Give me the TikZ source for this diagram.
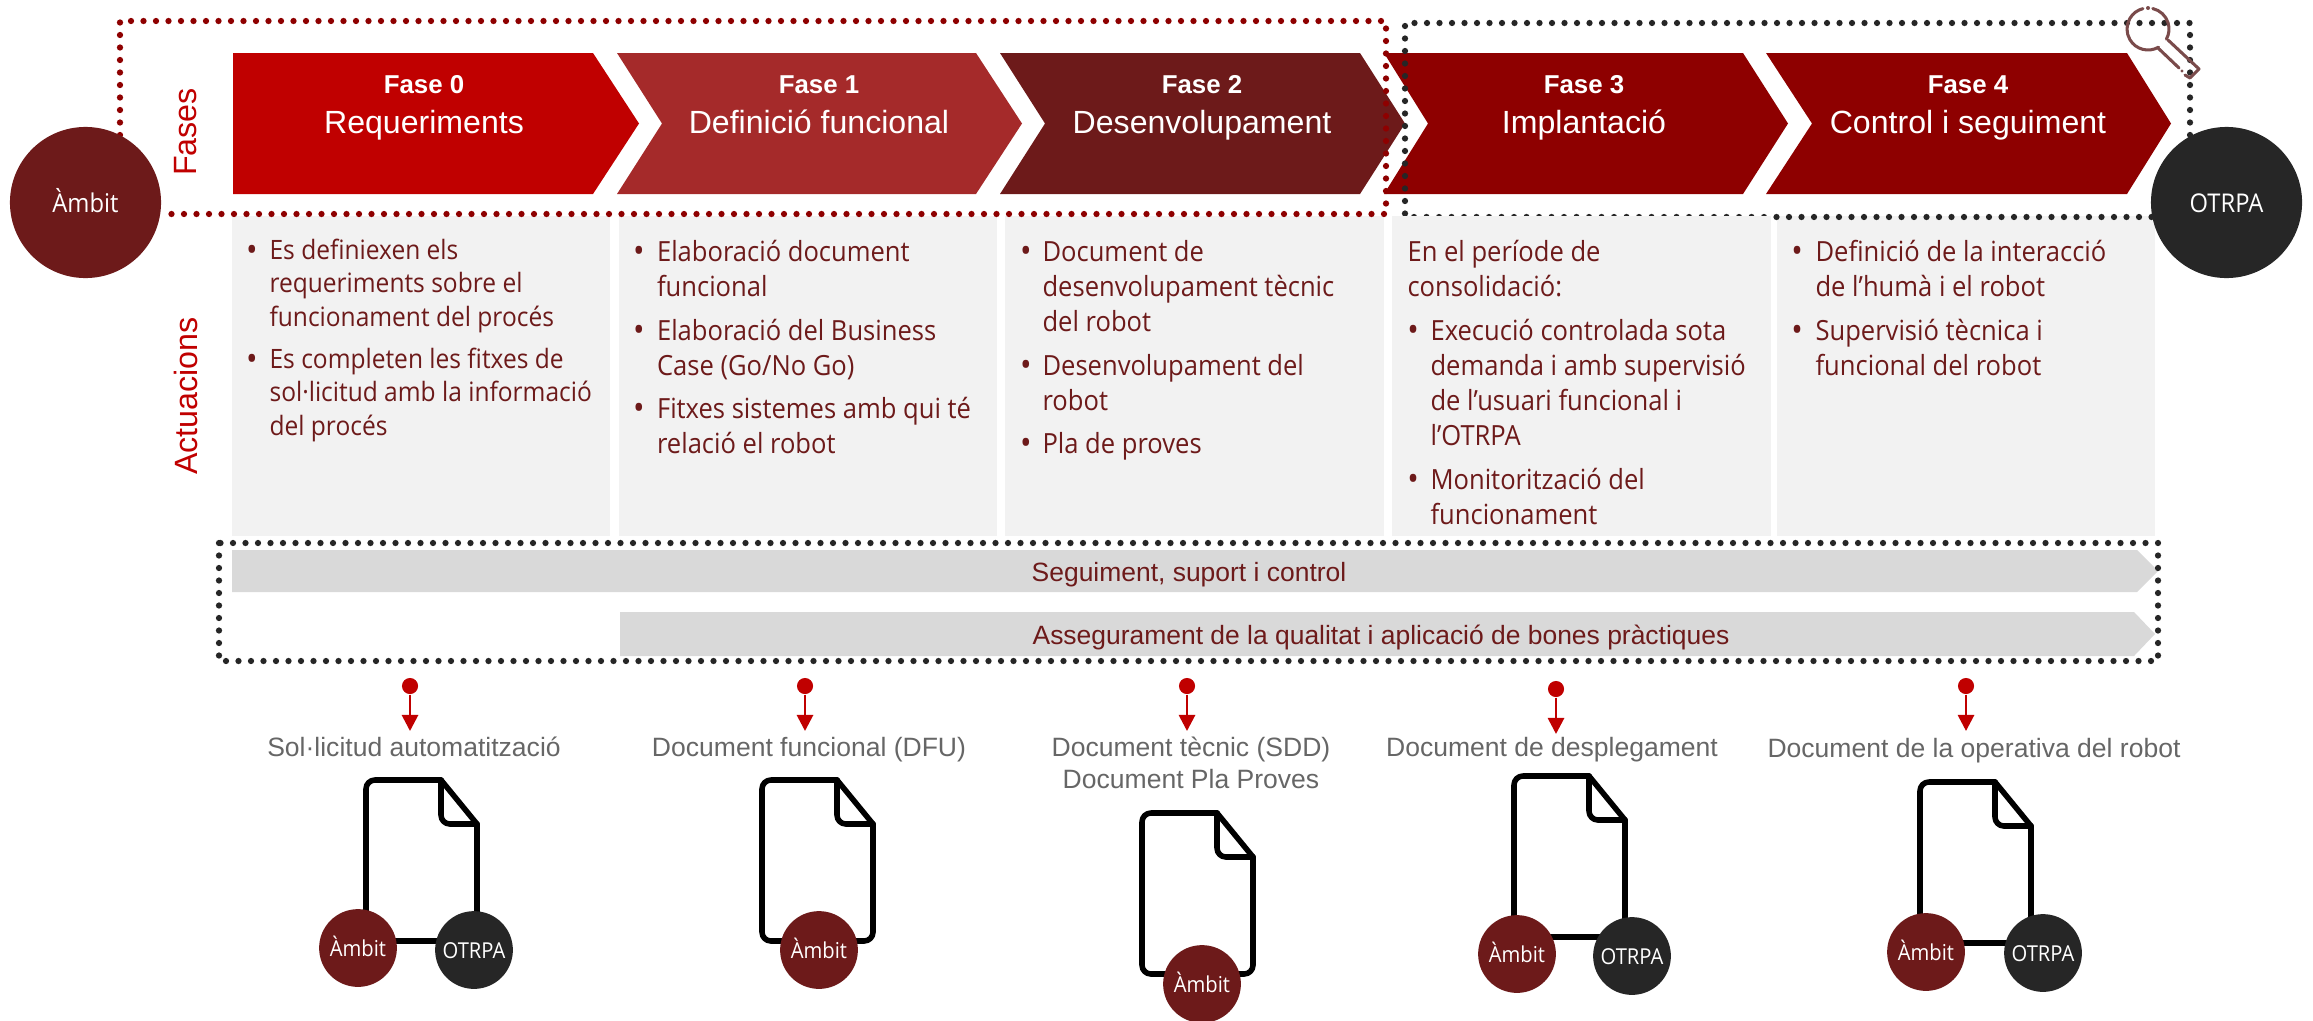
\documentclass[tikz,border=0pt]{standalone}
\usepackage{fontspec}
\setmainfont{Liberation Sans}
\newfontfamily\segoe[FakeStretch=0.92]{Open Sans}
\usetikzlibrary{arrows.meta}
\definecolor{cred}{HTML}{C00000}
\definecolor{cmid}{HTML}{A52A2A}
\definecolor{cdark}{HTML}{6D1A1A}
\definecolor{cdeep}{HTML}{8E0000}
\definecolor{cblk}{HTML}{262626}
\definecolor{cpanel}{HTML}{F2F2F2}
\definecolor{cbar}{HTML}{D9D9D9}
\definecolor{cdoc}{HTML}{666666}
\definecolor{cmag}{HTML}{7A4B4B}
\tikzset{
  x=0.36pt,y=-0.36pt,
  paneltext/.style={anchor=north west,text=cdark,font=\segoe\fontsize{10pt}{12.6pt}\selectfont,align=left,inner sep=0pt},
  tight/.style={font=\segoe\fontsize{9.6pt}{12.05pt}\selectfont},
  bulletmark/.style={anchor=base,text=cdark,font=\segoe\fontsize{12pt}{12.6pt}\selectfont,inner sep=0pt},
  dotline/.style={line width=2.25pt,line cap=round,dash pattern=on 0pt off 4.5pt},
  bigcirc/.style={circle,minimum size=54.4pt,inner sep=0pt,text=white,text height=8pt,text depth=1pt,font=\segoe\fontsize{9.3pt}{10pt}\selectfont},
  smallcirc/.style={circle,minimum size=28pt,inner sep=0pt,text=white,text height=6.8pt,text depth=1pt,font=\segoe\fontsize{7.9pt}{8pt}\selectfont},
  doclabel/.style={anchor=base,text=cdoc,font=\fontsize{9.55pt}{11.5pt}\selectfont,align=center,inner sep=0pt},
  phasenum/.style={anchor=base,text=white,font=\bfseries\fontsize{9.3pt}{11pt}\selectfont,inner sep=0pt},
  phasename/.style={anchor=base,text=white,font=\fontsize{11.55pt}{13pt}\selectfont,inner sep=0pt},
  sidelabel/.style={rotate=90,text=cred,font=\fontsize{11.6pt}{13pt}\selectfont,inner sep=0pt},
  bartext/.style={anchor=base,text=cdark,font=\fontsize{9.52pt}{11pt}\selectfont,inner sep=0pt},
  pindot/.style={circle,fill=cred,minimum size=5.8pt,inner sep=0pt},
  pinline/.style={draw=cred,line width=1pt,-{Triangle[length=5.8pt,width=5.8pt,fill=cred]}},
  docline/.style={line width=2pt,line cap=round,line join=round},
  magline/.style={draw=cmag,line width=1.1pt,line cap=round,line join=round},
}
\newcommand{\docicon}[2]{%
  \begin{scope}[shift={(#1,#2)}]
    \draw[docline,rounded corners=3.2pt] (75,0) -- (0,0) -- (0,161) -- (111,161) -- (111,44);
    \draw[docline] (75,0) -- (111,44);
    \draw[docline,rounded corners=3.2pt] (75,0) -- (75,44) -- (111,44);
  \end{scope}}
\newcommand{\para}[5]{% name, bullet x, text x, first baseline, text
  \node[bulletmark] (#1b) at (#2,#4+3) {•};
  \node[paneltext] (#1) at (#3,#4-19.44) {\rule{0pt}{7pt}#5};}
\newcommand{\parat}[5]{%
  \node[bulletmark] (#1b) at (#2,#4+3) {•};
  \node[paneltext,tight] (#1) at (#3,#4-19.44) {\rule{0pt}{7pt}#5};}
\begin{document}
\begin{tikzpicture}
\useasboundingbox (0,0) rectangle (2313,1020);
% panels
\fill[cpanel] (232,216) rectangle (610,536);
\fill[cpanel] (619,216) rectangle (997,536);
\fill[cpanel] (1005,216) rectangle (1384,536);
\fill[cpanel] (1777,216) rectangle (2155,536);
% chevrons
\fill[cred]  (233,53) -- (593,53) -- (639,123.5) -- (593,194) -- (233,194) -- cycle;
\fill[cmid]  (617,53) -- (976,53) -- (1022,123.5) -- (976,194) -- (617,194) -- (662,123.5) -- cycle;
\fill[cdark] (1000,53) -- (1360,53) -- (1405,123.5) -- (1360,194) -- (1000,194) -- (1045,123.5) -- cycle;
\fill[cdeep] (1384,53) -- (1743,53) -- (1788,123.5) -- (1743,194) -- (1384,194) -- (1428,123.5) -- cycle;
\fill[cdeep] (1766,53) -- (2127,53) -- (2171,123.5) -- (2127,194) -- (1766,194) -- (1812,123.5) -- cycle;
% phase titles
\node[phasenum] (f0) at (424,93) {Fase 0};
\node[phasename] (n0) at (424,133) {Requeriments};
\node[phasenum] (f1) at (819,93) {Fase 1};
\node[phasename] (n1) at (819,133) {Definició funcional};
\node[phasenum] (f2) at (1202,93) {Fase 2};
\node[phasename] (n2) at (1202,133) {Desenvolupament};
\node[phasenum] (f3) at (1584,93) {Fase 3};
\node[phasename] (n3) at (1584,133) {Implantació};
\node[phasenum] (f4) at (1968,93) {Fase 4};
\node[phasename] (n4) at (1968,133) {Control i seguiment};
% side labels
\node[sidelabel] (sf) at (186,132) {Fases};
\node[sidelabel] (sa) at (186,396) {Actuacions};
% dotted frames
\draw[cdeep,dotline] (120,135) -- (120,21) -- (1386,21) -- (1386,214) -- (161,214);
\draw[cblk,dotline] (2190,135) -- (2190,23) -- (1405,23) -- (1405,217) -- (2155,217);
\fill[cpanel] (1392,216) rectangle (1771,536);
% magnifier
\begin{scope}[shift={(2148,29)}]
  \draw[magline] (-77:21) arc[start angle=-77,end angle=29,radius=21];
  \draw[magline] (60:21) arc[start angle=60,end angle=256,radius=21];
  \fill[cmag] (-90:21) circle[radius=2];
\end{scope}
\draw[magline] (2168,40) -- (2199,69) -- (2190,78) -- (2185,75);
\draw[magline] (2158,48) -- (2179,68);
\fill[cmag] (2182,71) circle[radius=1.6];
% main circles
\node[bigcirc,fill=cdark] (ambit) at (85.5,202.5) {Àmbit};
\node[bigcirc,fill=cblk] (otrpa) at (2226.5,202.5) {OTRPA};
% column texts
\parat{a1}{252}{269}{258}{Es definiexen els\\requeriments sobre el\\funcionament del procés}
\parat{a2}{252}{269}{367}{Es completen les fitxes de\\sol·licitud amb la informació\\del procés}
\para{b1}{639}{656.5}{259}{Elaboració document\\funcional}
\para{b2}{639}{656.5}{338}{Elaboració del Business\\Case (Go/No Go)}
\para{b3}{639}{656.5}{416}{Fitxes sistemes amb qui té\\relació el robot}
\para{c1}{1026}{1042}{259}{Document de\\desenvolupament tècnic\\del robot}
\para{c2}{1026}{1042}{373}{Desenvolupament del\\robot}
\para{c3}{1026}{1042}{451}{Pla de proves}
\node[paneltext] (d0) at (1407,259-19.44) {\rule{0pt}{7pt}En el període de\\consolidació:};
\para{d1}{1413}{1430}{338}{Execució controlada sota\\demanda i amb supervisió\\de l’usuari funcional i\\l’OTRPA}
\para{d2}{1413}{1430}{487}{Monitorització del\\funcionament}
\para{e1}{1797}{1815}{259}{Definició de la interacció\\de l’humà i el robot}
\para{e2}{1797}{1815}{338}{Supervisió tècnica i\\funcional del robot}
% bars
\fill[cbar] (232,550) -- (2137,550) -- (2158,571) -- (2137,592) -- (232,592) -- cycle;
\fill[cbar] (620,612) -- (2134,612) -- (2155,634) -- (2134,656) -- (620,656) -- cycle;
\node[bartext] (s1) at (1189,581) {Seguiment, suport i control};
\node[bartext] (s2) at (1381,644) {Assegurament de la qualitat i aplicació de bones pràctiques};
\draw[cblk,dotline] (219,543) rectangle (2158,661);
% pins
\foreach \nm/\px/\py in {p1/410/686,p2/805/686,p3/1187/686,p4/1556/689,p5/1966/686}{
  \node[pindot] (\nm) at (\px,\py) {};
  \coordinate (\nm e) at (\px,\py+45);
  \draw[pinline] (\nm) -- (\nm e);
}
% labels
\node[doclabel] (l1) at (414,756) {Sol·licitud automatització};
\node[doclabel] (l2) at (809,756) {Document funcional (DFU)};
\node[doclabel,anchor=north] (l3) at (1191,736.6) {\rule{0pt}{7pt}Document tècnic (SDD)\\Document Pla Proves};
\node[doclabel] (l4) at (1552,756) {Document de desplegament};
\node[doclabel] (l5) at (1974,757) {Document de la operativa del robot};
% documents
\docicon{366}{780}
\docicon{762}{780}
\docicon{1142}{813}
\docicon{1514}{776}
\docicon{1920}{782}
% small circles
\node[smallcirc,fill=cdark] (c1a) at (358,948) {Àmbit};
\node[smallcirc,fill=cblk] (c1o) at (474,950) {OTRPA};
\node[smallcirc,fill=cdark] (c2a) at (819,950) {Àmbit};
\node[smallcirc,fill=cdark] (c3a) at (1202,984) {Àmbit};
\node[smallcirc,fill=cdark] (c4a) at (1517,954) {Àmbit};
\node[smallcirc,fill=cblk] (c4o) at (1632,956) {OTRPA};
\node[smallcirc,fill=cdark] (c5a) at (1926,952) {Àmbit};
\node[smallcirc,fill=cblk] (c5o) at (2043,953) {OTRPA};
\end{tikzpicture}
\end{document}
